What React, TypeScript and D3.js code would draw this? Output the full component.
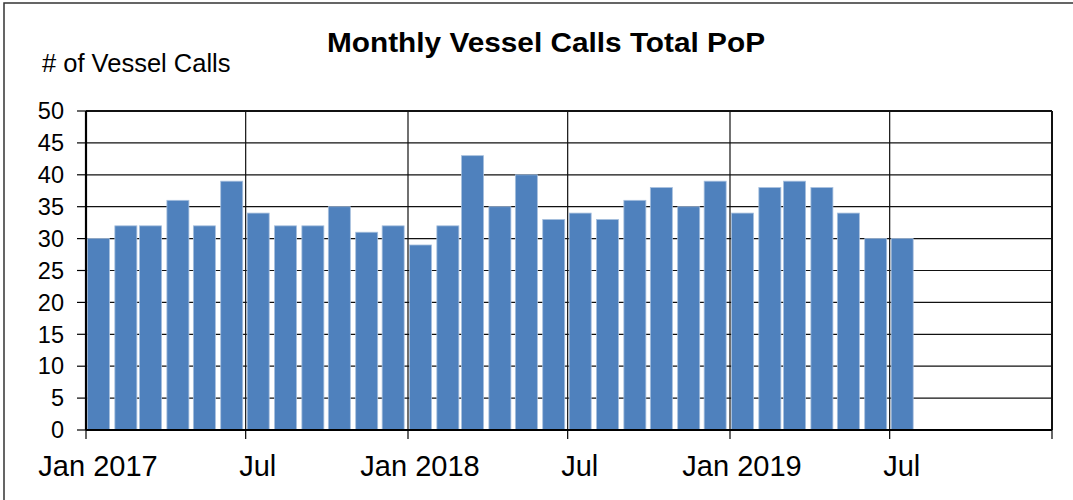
import React from "react";
import * as d3 from "d3";

const months: string[] = [
  "2017-01","2017-02","2017-03","2017-04","2017-05","2017-06","2017-07","2017-08","2017-09","2017-10","2017-11","2017-12",
  "2018-01","2018-02","2018-03","2018-04","2018-05","2018-06","2018-07","2018-08","2018-09","2018-10","2018-11","2018-12",
  "2019-01","2019-02","2019-03","2019-04","2019-05","2019-06","2019-07",
];
const vesselCalls: number[] = [
  30,32,32,36,32,39,34,32,32,35,31,32,
  29,32,43,35,40,33,34,33,36,38,35,39,
  34,38,39,38,34,30,30,
];
const yTicks: number[] = [0,5,10,15,20,25,30,35,40,45,50];
const xTickDates: string[] = ["2017-01","2017-07","2018-01","2018-07","2019-01","2019-07","2020-01"];
const xTickLabels: string[] = ["Jan 2017","Jul","Jan 2018","Jul","Jan 2019","Jul",""];

const W = 1073, H = 500;
const left = 86, right = 1052, top = 111, bottom = 430;
const parse = d3.timeParse("%Y-%m");

export default function App() {
  const x = d3.scaleTime()
    .domain([parse("2017-01")!, parse("2020-01")!])
    .range([left, right]);
  const y = d3.scaleLinear().domain([0, 50]).range([bottom, top]);
  const monthW = (right - left) / 36;
  const barW = monthW * 0.82;
  const font = "'Liberation Sans', Arial, sans-serif";

  return (
    <svg width={W} height={H} style={{ position: "absolute", left: 0, top: 0, background: "#fff" }}>
      <rect x={4} y={3} width={W + 10} height={H + 10} fill="#fff" stroke="#333" strokeWidth={1.5} />
      <text x={546} y={52} textAnchor="middle" fontFamily={font} fontWeight="bold" fontSize={27}
        textLength={438} lengthAdjust="spacingAndGlyphs" fill="#000">Monthly Vessel Calls Total PoP</text>
      <text x={42} y={72} fontFamily={font} fontSize={25.5} fill="#000">{"# of Vessel Calls"}</text>

      {/* horizontal gridlines */}
      {yTicks.map((t) => (
        <line key={"gy" + t} x1={left} x2={right} y1={y(t)} y2={y(t)} stroke="#111" strokeWidth={1.2} />
      ))}
      {/* vertical gridlines */}
      {xTickDates.map((d) => (
        <line key={"gx" + d} x1={x(parse(d)!)} x2={x(parse(d)!)} y1={top} y2={bottom} stroke="#111" strokeWidth={1.2} />
      ))}
      {/* bars */}
      {months.map((m, i) => (
        <rect key={m} x={x(parse(m)!) + 1.5} y={y(vesselCalls[i])} width={barW}
          height={bottom - y(vesselCalls[i])} fill="#4F81BD" stroke="#A7C0DE" strokeWidth={0.8} />
      ))}
      {/* plot frame */}
      <line x1={left} x2={right} y1={top} y2={top} stroke="#111" strokeWidth={2} />
      <line x1={right} x2={right} y1={top} y2={bottom} stroke="#111" strokeWidth={2} />
      <line x1={left} x2={left} y1={top} y2={bottom} stroke="#000" strokeWidth={2.2} />
      <line x1={left} x2={right} y1={bottom} y2={bottom} stroke="#000" strokeWidth={2.2} />

      {/* y ticks */}
      {yTicks.map((t) => (
        <g key={"yt" + t}>
          <line x1={left - 9} x2={left} y1={y(t)} y2={y(t)} stroke="#000" strokeWidth={1.2} />
          <text x={64} y={y(t)} dy="0.35em" textAnchor="end" fontFamily={font} fontSize={23.5} fill="#000">{t}</text>
        </g>
      ))}
      {/* x ticks */}
      {xTickDates.map((d, i) => (
        <g key={"xt" + d}>
          <line x1={x(parse(d)!)} x2={x(parse(d)!)} y1={bottom} y2={bottom + 9} stroke="#000" strokeWidth={1.2} />
          <text x={x(parse(d)!) + 12} y={476} textAnchor="middle" fontFamily={font} fontSize={29} fill="#000">{xTickLabels[i]}</text>
        </g>
      ))}
    </svg>
  );
}
